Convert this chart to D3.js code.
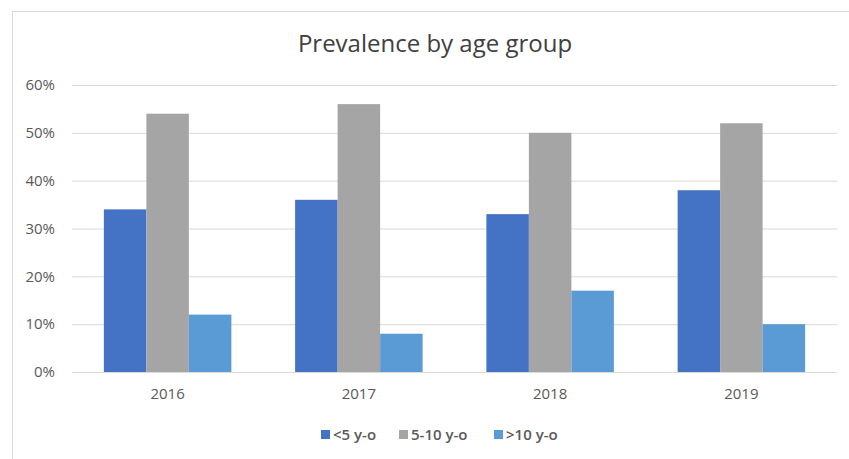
<!DOCTYPE html>
<html lang="en">
<head>
  <meta charset="UTF-8">
  <title>Prevalence by age group</title>
  <style>
    html, body {
      margin: 0;
      overflow: hidden;
      width: 100%;
      height: 100%;
      background: #fff;
    }
    svg {
      position: absolute;
      top: 0;
      left: 0;
      font-family: "Open Sans", "Noto Sans", sans-serif;
    }
  </style>
</head>
<body>
  <svg width="849" height="459"></svg>
</body>
<script src="https://d3js.org/d3.v7.min.js"></script>
<script type="text/javascript">
  const years = ['2016', '2017', '2018', '2019']
  const groups = ['<5 y-o', '5-10 y-o', '>10 y-o']
  const under5 = [0.34, 0.36, 0.33, 0.38]
  const from5to10 = [0.54, 0.56, 0.50, 0.52]
  const over10 = [0.12, 0.08, 0.17, 0.10]
  const yTicks = [0, 0.1, 0.2, 0.3, 0.4, 0.5, 0.6]
  const colors = ['#4472C4', '#A5A5A5', '#5B9BD5']

  const series = [under5, from5to10, over10]

  const svg = d3.select('svg')
  const width = 849
  const height = 459

  const margin = {top: 85, right: 12, bottom: 87, left: 72}

  // chart frame
  svg.append('rect')
    .attr('x', 12.5)
    .attr('y', 11.5)
    .attr('width', width)
    .attr('height', height)
    .attr('fill', 'none')
    .attr('stroke', '#D9D9D9')
    .attr('stroke-width', 1)

  svg.append('text')
    .attr('x', 435)
    .attr('y', 52)
    .attr('text-anchor', 'middle')
    .attr('font-size', '24px')
    .attr('fill', '#404040')
    .text('Prevalence by age group')

  const x = d3.scaleBand()
    .domain(years)
    .range([margin.left, width - margin.right])
    .paddingInner(1 / 3)
    .paddingOuter(1 / 6)

  const x1 = d3.scaleBand()
    .domain(groups)
    .range([0, x.bandwidth()])

  const y = d3.scaleLinear()
    .domain([0, 0.6])
    .range([height - margin.bottom, margin.top])

  // gridlines + y labels
  const yAxis = d3.axisLeft(y)
    .tickValues(yTicks)
    .tickFormat(d3.format('.0%'))
    .tickSize(-(width - margin.left - margin.right))
    .tickPadding(17)

  svg.append('g')
    .attr('transform', `translate(${margin.left},0)`)
    .call(yAxis)
    .call(g => g.select('.domain').remove())
    .call(g => g.selectAll('line').attr('stroke', '#D9D9D9'))
    .call(g => g.selectAll('text')
      .attr('fill', '#595959')
      .attr('font-size', '15px')
      .attr('font-family', '"Open Sans", sans-serif'))

  // bars
  const yearGroups = svg.append('g')
    .selectAll('g')
    .data(years)
    .enter().append('g')
      .attr('transform', d => `translate(${x(d)},0)`)

  yearGroups.selectAll('rect')
    .data((d, i) => groups.map((grp, j) => ({grp, v: series[j][i], c: colors[j]})))
    .enter().append('rect')
      .attr('x', d => x1(d.grp))
      .attr('y', d => y(d.v))
      .attr('width', x1.bandwidth())
      .attr('height', d => y(0) - y(d.v))
      .attr('fill', d => d.c)

  // x labels
  const xAxis = d3.axisBottom(x).tickSize(0).tickPadding(16)
  svg.append('g')
    .attr('transform', `translate(0,${height - margin.bottom})`)
    .call(xAxis)
    .call(g => g.select('.domain').remove())
    .call(g => g.selectAll('text')
      .attr('fill', '#595959')
      .attr('font-size', '15px')
      .attr('font-family', '"Open Sans", sans-serif'))

  // legend
  const legendX = [321, 399, 494]
  const legend = svg.append('g')
    .selectAll('g')
    .data(groups)
    .enter().append('g')
      .attr('transform', (d, i) => `translate(${legendX[i]},430)`)

  legend.append('rect')
    .attr('width', 9)
    .attr('height', 9)
    .attr('fill', (d, i) => colors[i])

  legend.append('text')
    .attr('x', 12)
    .attr('y', 9.5)
    .attr('font-size', '15px')
    .attr('font-weight', 600)
    .attr('fill', '#595959')
    .text(d => d)
</script>
</html>
